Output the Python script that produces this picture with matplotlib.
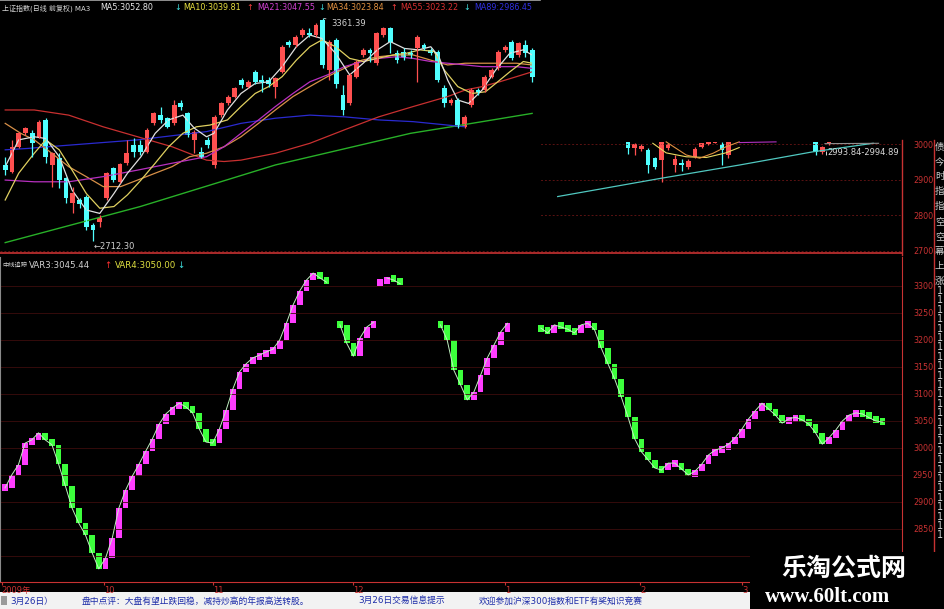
import numpy as np
import matplotlib.pyplot as plt
from matplotlib.patches import Rectangle
from matplotlib.lines import Line2D

plt.rcParams['font.family'] = ['DejaVu Sans', 'Noto Sans CJK SC']

W, H = 945, 609
RED = '#c83232'
GRID = '#3c0d0d'
UPC, DNC = '#ff5050', '#50ffff'
nan = np.nan

# ---- pasted daily chart (upper left): 上证指数 candles ----
k_open = [2935, 2915, 2988, 3027, 3027, 3017, 3066, 2935, 2954, 2896,
          2823, 2833, 2843, 2760, 2770, 2838, 2925, 2886, 2940, 2993,
          2993, 2974, 3056, 3080, 3071, 3056, 3114, 3085, 3008, 2974,
          3008, 2935, 3080, 3114, 3134, 3182, 3163, 3206, 3182, 3182,
          3163, 3206, 3294, 3284, 3313, 3318, 3313, 3357, 3211, 3299,
          3139, 3114, 3192, 3255, 3270, 3231, 3313, 3333, 3260, 3265,
          3262, 3274, 3284, 3270, 3265, 3158, 3114, 3124, 3046, 3109,
          3153, 3153, 3192, 3216, 3270, 3294, 3255, 3284, 3270]
k_high = [2959, 3008, 3032, 3046, 3037, 3066, 3071, 2974, 2969, 2901,
          2872, 2838, 2848, 2765, 2789, 2915, 2930, 2940, 3008, 3012,
          3008, 3042, 3090, 3105, 3075, 3124, 3124, 3090, 3037, 2988,
          3017, 3080, 3119, 3139, 3163, 3187, 3182, 3211, 3197, 3192,
          3192, 3284, 3299, 3313, 3333, 3333, 3347, 3361.39, 3299, 3303,
          3168, 3202, 3240, 3274, 3274, 3323, 3337, 3337, 3270, 3274,
          3270, 3313, 3289, 3274, 3270, 3168, 3129, 3129, 3080, 3158,
          3158, 3197, 3216, 3270, 3284, 3299, 3294, 3299, 3274]
k_low = [2906, 2911, 2983, 3022, 2959, 3012, 2940, 2872, 2867, 2823,
         2794, 2809, 2746, 2712.30, 2755, 2833, 2886, 2882, 2935, 2959,
         2964, 2969, 3051, 3056, 3042, 3051, 3095, 3017, 2969, 2954,
         2983, 2925, 3075, 3109, 3129, 3158, 3158, 3172, 3148, 3163,
         3129, 3202, 3279, 3279, 3308, 3308, 3308, 3216, 3182, 3158,
         3080, 3109, 3187, 3250, 3236, 3226, 3308, 3260, 3231, 3240,
         3245, 3177, 3270, 3255, 3177, 3105, 3109, 3042, 3042, 3105,
         3139, 3148, 3187, 3211, 3265, 3240, 3250, 3250, 3177]
k_close = [2920, 2988, 3027, 3042, 2998, 3061, 2959, 2969, 2891, 2838,
           2852, 2821, 2755, 2746, 2780, 2911, 2891, 2937, 2969, 2974,
           2974, 3037, 3085, 3066, 3046, 3109, 3105, 3022, 3032, 2959,
           2993, 3075, 3114, 3134, 3158, 3168, 3177, 3177, 3177, 3172,
           3187, 3279, 3284, 3308, 3328, 3313, 3342, 3226, 3294, 3172,
           3095, 3197, 3236, 3270, 3260, 3318, 3333, 3294, 3240, 3250,
           3255, 3308, 3274, 3260, 3182, 3114, 3124, 3046, 3075, 3153,
           3143, 3192, 3211, 3265, 3279, 3245, 3289, 3260, 3192]

ma5_x = [0, 2.0, 4.3, 6.0, 8.0, 9.9, 12.0, 14.0, 16.1, 18.1, 20.1, 22.2, 24.2, 26.3,
         28.0, 29.8, 30.9, 32.9, 34.9, 37.0, 39.0, 41.0, 43.1, 45.1, 46.9, 48.9, 51.0,
         53.0, 55.1, 57.0, 59.1, 61.2, 63.0, 64.2, 65.5, 67.0, 68.6, 70.6, 72.6, 74.7,
         76.7, 78.0]
ma5_y = [2930, 3008, 3017, 3012, 2959, 2862, 2804, 2794, 2852, 2911, 2959, 3027, 3066,
         3080, 3042, 3017, 3027, 3095, 3143, 3172, 3177, 3221, 3279, 3313, 3303, 3260,
         3197, 3231, 3270, 3294, 3274, 3270, 3279, 3250, 3182, 3124, 3114, 3153, 3211,
         3260, 3270, 3255]
ma10_x = [0, 2.0, 4.3, 6.0, 8.0, 9.9, 12.0, 14.0, 16.1, 18.1, 20.1, 22.2, 24.2, 26.3,
          28.3, 30.3, 32.9, 34.9, 37.0, 39.0, 41.0, 43.1, 45.1, 46.9, 48.9, 51.0, 53.0,
          55.1, 57.4, 59.4, 61.4, 63.5, 65.0, 67.0, 69.1, 71.1, 72.6, 74.7, 76.7, 78.0]
ma10_y = [2833, 2911, 2969, 3008, 2979, 2920, 2852, 2809, 2814, 2848, 2891, 2940, 2988,
          3027, 3046, 3051, 3066, 3105, 3143, 3163, 3192, 3240, 3279, 3299, 3279, 3245,
          3236, 3245, 3255, 3260, 3270, 3265, 3211, 3163, 3143, 3148, 3172, 3206, 3236,
          3231]
ma21_x = [0, 4.3, 9.4, 14.5, 19.6, 24.7, 29.8, 32.4, 34.9, 37.5, 40.0, 42.6, 45.1,
          47.7, 50.2, 52.8, 55.3, 57.9, 60.4, 63.0, 65.5, 68.1, 70.6, 73.2, 75.7, 78.0]
ma21_y = [2891, 2886, 2886, 2901, 2920, 2940, 2959, 2988, 3027, 3066, 3105, 3143, 3177,
          3197, 3221, 3236, 3245, 3250, 3245, 3236, 3231, 3226, 3221, 3221, 3221, 3216]
ma34_x = [0, 2.3, 4.3, 6.9, 9.4, 12.0, 14.5, 17.1, 19.6, 22.2, 24.7, 27.3, 29.8, 32.4,
          34.9, 37.5, 40.0, 42.6, 45.1, 47.7, 50.2, 52.8, 55.3, 57.9, 60.4, 63.0, 65.5,
          68.1, 70.6, 73.2, 75.7, 78.0]
ma34_y = [3056, 3027, 3008, 2969, 2930, 2901, 2872, 2872, 2891, 2911, 2930, 2959, 2969,
          2988, 3017, 3056, 3095, 3134, 3163, 3192, 3216, 3240, 3250, 3255, 3255, 3240,
          3226, 3231, 3231, 3231, 3231, 3226]
ma55_x = [0, 4.3, 9.4, 14.5, 19.6, 24.7, 29.8, 32.4, 34.9, 40.0, 45.1, 50.2, 55.3,
          60.4, 65.5, 68.1, 70.6, 73.2, 75.7, 78.0]
ma55_y = [3095, 3095, 3080, 3046, 3017, 2988, 2949, 2945, 2949, 2969, 2998, 3037, 3075,
          3105, 3134, 3153, 3163, 3177, 3192, 3206]
ma89_x = [0, 3.3, 6.4, 19.6, 29.8, 34.9, 40.0, 45.1, 50.2, 55.3, 60.4, 65.5, 68.1]
ma89_y = [2979, 2983, 2988, 3008, 3032, 3056, 3071, 3080, 3075, 3066, 3061, 3051, 3046]
trend_x = [0, 20, 40, 60, 66, 78]
trend_y = [2709, 2814, 2935, 3027, 3046, 3085]

# ---- main upper panel, right part ----
r_idx = [93, 94, 95, 96, 97, 98, 99, 100, 101, 102, 103, 104, 105, 106, 107, 108,
         121, 122, 123]
r_open = [3006, 2988, 2985, 2983, 2960, 2955, 2988, 2941, 2947, 2936, 2964, 2992, 3000,
          3004, 3000, 2969, 3006, 2978, 3000]
r_high = [3006, 3004, 3000, 2988, 2964, 3006, 3004, 2969, 2957, 2957, 2992, 3004, 3006,
          3006, 3006, 3006, 3006, 2994, 3006]
r_low = [2973, 2969, 2981, 2917, 2931, 2894, 2983, 2922, 2925, 2931, 2960, 2988, 2997,
         3002, 2941, 2960, 2969, 2973, 2997]
r_close = [2988, 3000, 2994, 2941, 2936, 3006, 3000, 2957, 2941, 2953, 2985, 3002, 3006,
           3006, 2983, 3006, 2978, 2992, 3006]
r_orange_x = [98.7, 101.7, 103.7, 105.7, 107.6, 109.6]
r_orange_y = [3006, 2969, 2960, 2974, 2992, 3006]
r_yellow_x = [96.7, 98.7, 101.7, 104.7, 107.6, 109.6]
r_yellow_y = [3002, 2975, 2964, 2962, 2975, 2990]
r_purple_x = [109.6, 115.1]
r_purple_y = [3004, 3006]
r_teal_x = [82.5, 97.8, 109.7, 120.6, 129.6]
r_teal_y = [2852, 2903, 2941, 2978, 3002]
r_gray_x = [122.4, 130.4]
r_gray_y = [3001, 3002]
up_ticks = [2700, 2800, 2900, 3000]

# ---- lower panel indicator (中线追踪 VAR3) ----
var3 = [2926, 2950, 2969, 3009, 3015, 3028, 3015, 3006, 2970, 2930,
        2889, 2861, 2839, 2806, 2776, 2796, 2833, 2889, 2922, 2948,
        2970, 2994, 3017, 3044, 3063, 3074, 3083, 3076, 3065, 3035,
        3011, 3009, 3035, 3070, 3109, 3141, 3156, 3167, 3172, 3178,
        3183, 3200, 3231, 3265, 3291, 3311, 3324, 3315, 3307, nan,
        3228, 3194, 3170, 3204, 3224, 3233, 3306, 3315, 3311, 3304,
        nan, nan, nan, nan, nan, 3228, 3200, 3144, 3117, 3089,
        3104, 3135, 3167, 3191, 3215, 3231, nan, nan, nan, nan,
        3222, 3213, 3228, 3224, 3220, 3213, 3228, 3231, 3219, 3185,
        3156, 3128, 3094, 3057, 3017, 2993, 2978, 2963, 2959, 2972,
        2972, 2961, 2950, 2957, 2970, 2987, 2996, 3000, 3007, 3019,
        3035, 3054, 3069, 3083, 3072, 3061, 3046, 3054, 3057, 3052,
        3044, 3028, 3007, 3019, 3033, 3050, 3061, 3065, 3063, 3056,
        3050, 3048]
lo_ticks = [2850, 2900, 2950, 3000, 3050, 3100, 3150, 3200, 3250, 3300]
date_pos = [-0.5, 14.8, 31, 52, 74.6, 94.8, 110]
date_lbl = ['2009年', '10', '11', '12', '1', '2', '3']


def candles(ax, x, o, h, l, c, width, minh):
    o, h, l, c = map(np.asarray, (o, h, l, c))
    cols = np.where(c >= o, UPC, DNC)
    ax.vlines(x, l, h, colors=cols, lw=0.9)
    ax.bar(x, np.maximum(np.abs(c - o), minh), bottom=np.minimum(o, c),
           width=width, color=cols, linewidth=0)


def put(px, py, s, color, size, **kw):
    fig.text(px / W, 1 - py / H, s, color=color, fontsize=size, va='center', **kw)


fig = plt.figure(figsize=(W / 100, H / 100), dpi=100, facecolor='black')

# upper main axes
ax_up = fig.add_axes([0, 1 - 253 / H, 902 / W, 253 / H], facecolor='black')
ax_up.set_xlim(-0.75, 133.9)
ax_up.set_ylim(2693, 3405.6)
for y in up_ticks:
    ax_up.axhline(y, color='#5a1212', lw=0.7, ls=(0, (2, 2)))
candles(ax_up, r_idx, r_open, r_high, r_low, r_close, 0.68, 2)
ax_up.plot(r_teal_x, r_teal_y, color='#50c8c0', lw=0.9)
ax_up.plot(r_gray_x, r_gray_y, color='#909090', lw=0.8)
ax_up.plot(r_yellow_x, r_yellow_y, color='#e8d860', lw=0.8)
ax_up.plot(r_orange_x, r_orange_y, color='#e09040', lw=0.8)
ax_up.plot(r_purple_x, r_purple_y, color='#b030c0', lw=0.8)
ax_up.vlines(122.5, 2970, 2981, color='#d8d8d8', lw=0.7)
ax_up.text(122.8, 2975.5, '2993.84-2994.89', color='#d8d8d8', fontsize=6, va='center')
for s in ('top', 'left', 'right'):
    ax_up.spines[s].set_visible(False)
ax_up.spines['bottom'].set_color(RED)
ax_up.spines['bottom'].set_linewidth(1.2)
ax_up.set_xticks([])
ax_up.yaxis.tick_right()
ax_up.set_yticks(up_ticks)
ax_up.tick_params(axis='y', length=0, pad=22.5, labelsize=5.8, labelcolor=RED)
for t in ax_up.get_yticklabels():
    t.set_ha('right')

# pasted daily chart
ax_in = fig.add_axes([0, 1 - 250 / H, 540 / W, 250 / H], facecolor='black')
ax_in.set_xlim(-0.77, 79.17)
ax_in.set_ylim(2687.5, 3415)
kx = np.arange(len(k_open))
ax_in.plot(trend_x, trend_y, color='#28b028', lw=1.0)
ax_in.plot(ma89_x, ma89_y, color='#2a2ad0', lw=0.9)
ax_in.plot(ma55_x, ma55_y, color='#c83030', lw=0.9)
ax_in.plot(ma34_x, ma34_y, color='#d89048', lw=0.9)
ax_in.plot(ma21_x, ma21_y, color='#b830c0', lw=0.9)
ax_in.plot(ma10_x, ma10_y, color='#e0d060', lw=0.9)
ax_in.plot(ma5_x, ma5_y, color='#e0e0e0', lw=0.9)
candles(ax_in, kx, k_open, k_high, k_low, k_close, 0.72, 4)
ax_in.annotate('3361.39', xy=(47.2, 3361.39), xytext=(48.3, 3347), color='#d0d0d0',
               fontsize=6, va='center', arrowprops=dict(arrowstyle='-', color='#d0d0d0', lw=0.6))
ax_in.text(13.1, 2699, '←2712.30', color='#d0d0d0', fontsize=6, va='center')
ax_in.set_xticks([])
ax_in.set_yticks([])
for s in ('bottom', 'left', 'right'):
    ax_in.spines[s].set_visible(False)
ax_in.spines['top'].set_color('#a8a8a8')
ax_in.spines['top'].set_linewidth(1.2)

# lower indicator axes
ax_lo = fig.add_axes([0, 27 / H, 902 / W, 325 / H], facecolor='black')
ax_lo.set_zorder(2)
ax_lo.set_xlim(-0.75, 133.9)
ax_lo.set_ylim(2751.8, 3353.7)
for y in lo_ticks:
    ax_lo.axhline(y, color=GRID, lw=0.6)
ax_lo.axhline(2800, color=GRID, lw=0.6)

v = np.array(var3, dtype=float)
xs = np.arange(len(v))
prev = np.concatenate([[nan], v[:-1]])
nxt = np.concatenate([v[1:], [nan]])
with np.errstate(invalid='ignore'):
    link = ~np.isnan(prev) & (np.abs(v - prev) < 65)
    lo = np.where(link, np.fmin(v, prev), v)
    hi = np.where(link, np.fmax(v, prev), v)
    up = np.where(link, v >= prev, nxt >= v)
hgt = np.maximum(hi - lo, 13)
bot = (lo + hi) / 2 - hgt / 2
cols = np.where(up, '#ff3cff', '#3cff3c')
ok = ~np.isnan(v)
ax_lo.bar(xs[ok], hgt[ok], bottom=bot[ok], width=0.85, color=cols[ok], linewidth=0)
line_v = np.where(link | np.isnan(prev), v, nan)
ax_lo.plot(xs, line_v, color='#c0f0c0', lw=0.7)

ax_lo.spines['top'].set_visible(False)
ax_lo.spines['bottom'].set_color(RED)
ax_lo.spines['right'].set_color(RED)
ax_lo.spines['left'].set_color('#8a8a8a')
ax_lo.yaxis.tick_right()
ax_lo.set_yticks(lo_ticks)
ax_lo.tick_params(axis='y', length=0, pad=22.5, labelsize=5.8, labelcolor=RED)
for t in ax_lo.get_yticklabels():
    t.set_ha('right')
ax_lo.set_xticks(date_pos)
ax_lo.set_xticklabels(date_lbl)
ax_lo.tick_params(axis='x', colors=RED, length=2.5, width=0.8, pad=0.6, labelsize=6)
for t in ax_lo.get_xticklabels():
    t.set_ha('left')

# frame lines on the right
fig.add_artist(Line2D([902 / W, 902 / W], [1 - 140 / H, 1 - 255 / H], color=RED, lw=1))
fig.add_artist(Line2D([934 / W, 934 / W], [1 - 140 / H, 1 - 582 / H], color=RED, lw=1))

# headers
for px, s, c in [(2, '上证指数(日线 前复权) MA3', '#d8d8d8'), (100, 'MA5:3052.80', '#e8e8e8'),
                 (174, '↓', '#40e0e0'), (183, 'MA10:3039.81', '#e8e040'), (246, '↑', '#ff4040'),
                 (257, 'MA21:3047.55', '#d040d0'), (318, '↓', '#40e0e0'),
                 (326, 'MA34:3023.84', '#e09040'), (390, '↑', '#ff4040'),
                 (400, 'MA55:3023.22', '#d83030'), (463, '↓', '#40e0e0'),
                 (474, 'MA89:2986.45', '#3030e0')]:
    put(px, 8, s, c, 5.0 if px == 2 else 5.8)
for px, s, c, sz in [(2, '中线追踪', '#d0d0d0', 4.5), (29, 'VAR3:3045.44', '#d0d0d0', 6.2),
                     (104, '↑', '#ff3030', 6.2), (115, 'VAR4:3050.00', '#e0e040', 6.2),
                     (177, '↓', '#40e0e0', 6.2)]:
    put(px, 265, s, c, sz)

# right edge text strip
for py, ch in zip(np.linspace(147, 281, 10), '债今时指指空空幕上涨'):
    put(935, py, ch, '#d0d0d0', 6.8)
for py in np.arange(291, 540, 9.4):
    put(937, py, '1', '#d0d0d0', 7)

# status bar
fig.add_artist(Rectangle((0, 0), 750 / W, 17 / H, transform=fig.transFigure,
                         facecolor='#f2f2f2', edgecolor='none'))
fig.add_artist(Rectangle((1 / W, 4 / H), 6 / W, 9 / H, transform=fig.transFigure,
                         facecolor='#9a9a9a', edgecolor='none'))
for px, s in [(10, '3月26日）'), (82, '盘中点评：大盘有望止跌回稳，减持炒高的年报高送转股。'),
              (358, '3月26日交易信息提示'), (479, '欢迎参加沪深300指数和ETF有奖知识竞赛')]:
    put(px, 601, s, '#1c2ca8', 6.3)

# watermark
fig.add_artist(Rectangle((750 / W, 0), 195 / W, 57 / H, transform=fig.transFigure,
                         facecolor='black', edgecolor='none', zorder=2.5))
put(844, 569, '乐淘公式网', 'white', 18, ha='center', family='Noto Sans CJK SC',
    fontweight='bold')
put(828, 597, 'www.60lt.com', 'white', 15, ha='center', family='Liberation Serif',
    fontweight='bold')

fig.savefig('out.png', dpi=100, facecolor='black')
